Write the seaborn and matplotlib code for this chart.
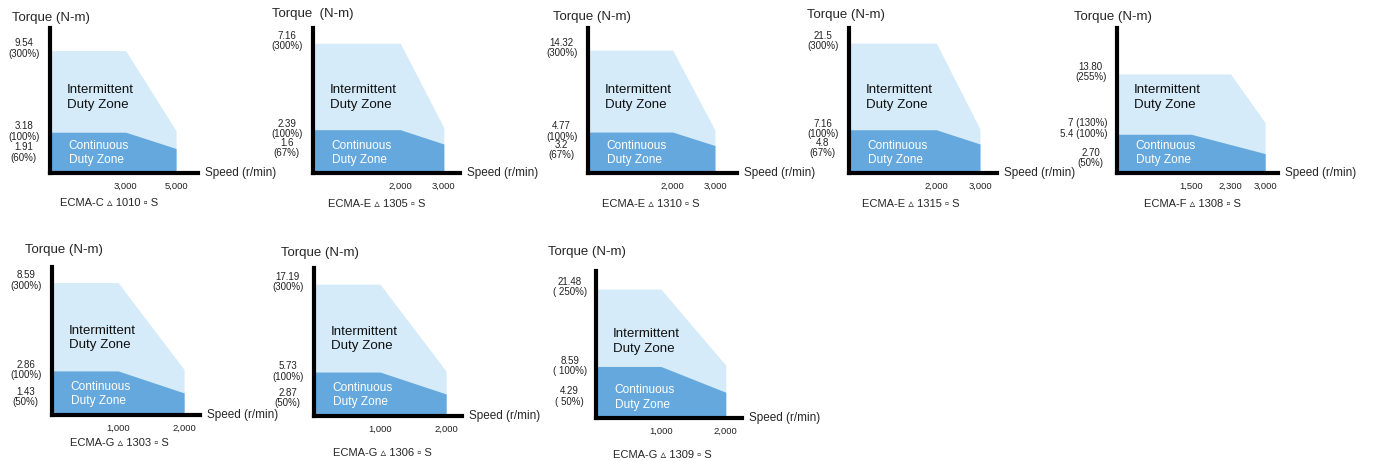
import numpy as np
import matplotlib
matplotlib.use("Agg")
import matplotlib.pyplot as plt
import seaborn as sns

# Torque-speed curves, one entry per servo motor model
models = ["ECMA-C ▵ 1010 ▫ S", "ECMA-E ▵ 1305 ▫ S", "ECMA-E ▵ 1310 ▫ S", "ECMA-E ▵ 1315 ▫ S",
          "ECMA-F ▵ 1308 ▫ S", "ECMA-G ▵ 1303 ▫ S", "ECMA-G ▵ 1306 ▫ S", "ECMA-G ▵ 1309 ▫ S"]
rated_speed = [3000, 2000, 2000, 2000, 1500, 1000, 1000, 1000]
peak_knee_speed = [3000, 2000, 2000, 2000, 2300, 1000, 1000, 1000]
max_speed = [5000, 3000, 3000, 3000, 3000, 2000, 2000, 2000]
speed_ticks = [[3000, 5000], [2000, 3000], [2000, 3000], [2000, 3000],
               [1500, 2300, 3000], [1000, 2000], [1000, 2000], [1000, 2000]]

peak_torque = [9.54, 7.16, 14.32, 21.5, 13.80, 8.59, 17.19, 21.48]
peak_end_torque = [3.3, 2.5, 5.0, 7.3, 7.0, 2.95, 5.85, 8.8]
rated_torque = [3.18, 2.39, 4.77, 7.16, 5.4, 2.86, 5.73, 8.59]
cont_end_torque = [1.91, 1.6, 3.2, 4.8, 2.70, 1.43, 2.87, 4.29]

peak_labels = ["9.54\n(300%)", "7.16\n(300%)", "14.32\n(300%)", "21.5\n(300%)",
               "13.80\n(255%)", "8.59\n(300%)", "17.19\n(300%)", "21.48\n( 250%)"]
rated_labels = ["3.18\n(100%)", "2.39\n(100%)", "4.77\n(100%)", "7.16\n(100%)",
                "5.4 (100%)", "2.86\n(100%)", "5.73\n(100%)", "8.59\n( 100%)"]
cont_labels = ["1.91\n(60%)", "1.6\n(67%)", "3.2\n(67%)", "4.8\n(67%)",
               "2.70\n(50%)", "1.43\n(50%)", "2.87\n(50%)", "4.29\n( 50%)"]
torque_titles = ["Torque (N-m)", "Torque  (N-m)", "Torque (N-m)", "Torque (N-m)",
                 "Torque (N-m)", "Torque (N-m)", "Torque (N-m)", "Torque (N-m)"]

# layout: axes boxes in pixels (left, bottom, right, top) and axis limits
boxes = [(50, 173, 198, 28), (313, 173, 460, 28), (588, 173, 737, 28), (849, 173, 997, 28),
         (1117, 173, 1278, 28), (52, 415, 200, 267), (314, 416, 462, 268), (596, 418, 742, 271)]
x_top = [5870, 3370, 3520, 3390, 3260, 2240, 2240, 2250]
y_top = [11.3, 8.0, 16.9, 24.0, 20.2, 9.6, 19.3, 24.5]
# text offsets in pixels relative to the axis corner
title_dx = [-38, -41, -35, -42, -43, -27, -33, -48]
title_lift = [10, 14, 11, 13, 11, 17, 15, 19]
model_dx = [59, 64, 63, 62, 75, 67, 68, 66]
model_drop = [30, 31, 31, 31, 31, 28, 37, 37]

light = "#d5ebf9"
dark = "#64a8dd"

sns.set_theme(style="white")
plt.rcParams["font.family"] = ["Liberation Sans", "DejaVu Sans"]

W, H = 1375, 461
PX = 0.72  # points per pixel at dpi 100
fig = plt.figure(figsize=(W / 100, H / 100), dpi=100)

for i in range(len(models)):
    l, b, r, t = boxes[i]
    ax = fig.add_axes([l / W, (H - b) / H, (r - l) / W, (b - t) / H])

    # intermittent zone
    xs = [0, peak_knee_speed[i], max_speed[i]]
    ax.fill_between(xs, [peak_torque[i], peak_torque[i], peak_end_torque[i]], 0,
                    color=light, lw=0)
    # continuous zone
    xs = [0, rated_speed[i], max_speed[i]]
    ax.fill_between(xs, [rated_torque[i], rated_torque[i], cont_end_torque[i]], 0,
                    color=dark, lw=0)

    ax.set_xlim(0, x_top[i])
    ax.set_ylim(0, y_top[i])
    sns.despine(ax=ax)
    for side in ["left", "bottom"]:
        ax.spines[side].set_linewidth(3)
        ax.spines[side].set_color("black")
        ax.spines[side].set_capstyle("projecting")
    ax.set_yticks([])
    ax.set_xticks(speed_ticks[i], [f"{v:,}" for v in speed_ticks[i]])
    ax.tick_params(axis="x", length=0, pad=6, labelsize=6.8, labelcolor="#222222")

    # torque value labels
    lab = dict(xycoords="data", textcoords="offset points", fontsize=7,
               linespacing=1.05, annotation_clip=False, color="#222222")
    ax.annotate(peak_labels[i], (0, peak_torque[i]), xytext=(-19, 1.5), ha="center", va="center", **lab)
    if "\n" in rated_labels[i]:
        ax.annotate(rated_labels[i], (0, rated_torque[i]), xytext=(-19, 0.5), ha="center", va="center", **lab)
    else:
        ax.annotate(rated_labels[i], (0, rated_torque[i]), xytext=(-7, 0), ha="right", va="center", **lab)
        ax.annotate("7 (130%)", (0, peak_end_torque[i]), xytext=(-7, 0), ha="right", va="center", **lab)
    ax.annotate(cont_labels[i], (0, cont_end_torque[i]), xytext=(-19, -3), ha="center", va="center", **lab)

    # axis titles
    ax.annotate(torque_titles[i], (0, 1), xycoords="axes fraction",
                xytext=(title_dx[i] * PX, title_lift[i] * PX),
                textcoords="offset points", ha="left", va="center", fontsize=9.5)
    ax.annotate("Speed (r/min)", (1, 0), xycoords="axes fraction", xytext=(5, 0),
                textcoords="offset points", ha="left", va="center", fontsize=8.5)

    # zone labels
    ax.annotate("Intermittent\nDuty Zone", (0, 0.52), xycoords="axes fraction", xytext=(12, 0),
                textcoords="offset points", ha="left", va="center", fontsize=9.6,
                linespacing=1.25, color="#111111")
    ax.annotate("Continuous\nDuty Zone", (0, 0.14), xycoords="axes fraction", xytext=(13.5, 0),
                textcoords="offset points", ha="left", va="center", fontsize=8.6,
                linespacing=1.25, color="white")

    # model name
    ax.annotate(models[i], (0, 0), xycoords="axes fraction",
                xytext=(model_dx[i] * PX, -model_drop[i] * PX),
                textcoords="offset points", ha="center", va="center", fontsize=8)

fig.savefig("out.png", dpi=100, facecolor="white")
